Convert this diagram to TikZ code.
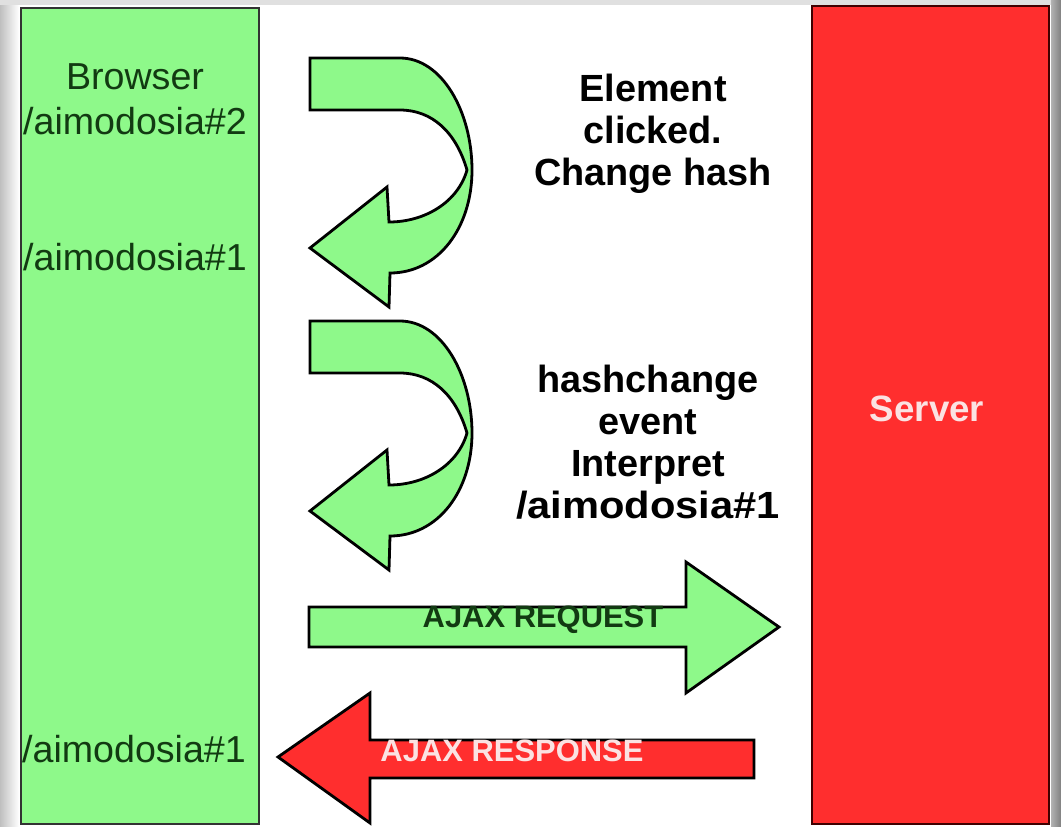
\documentclass[tikz,border=0pt]{standalone}
\usepackage{fontspec}
\setmainfont{Liberation Sans}
\definecolor{pagegreen}{HTML}{8EF98A}
\definecolor{pagered}{HTML}{FF2E2E}
\definecolor{greentext}{HTML}{123A12}
\definecolor{palepink}{HTML}{FBE2E2}
\tikzset{
  column/.style={draw=black!80, line width=1.4pt, inner sep=0pt},
  browserbox/.style={column, fill=pagegreen},
  serverbox/.style={column, fill=pagered, draw=black!75!red},
  pathlabel/.style={text=greentext, font=\fontsize{28.2}{31}\selectfont, inner sep=0pt},
  note/.style={align=center, font=\bfseries\fontsize{28.4}{31.5}\selectfont, inner sep=0pt},
  blockarrow/.style={draw=black, line width=2.1pt, line join=miter},
  reqlabel/.style={font=\bfseries\fontsize{23.2}{24}\selectfont, inner sep=0pt},
}
\begin{document}
\begin{tikzpicture}[x=0.75pt, y=-0.75pt]
  % page and frame
  \useasboundingbox (0,0) rectangle (1061,826);
  \fill[white] (0,0) rectangle (1061,826);
  \shade[left color=black!25, right color=white] (0,0) rectangle (19,826);
  \fill[black!12] (0,0) rectangle (1061,5);
  \shade[left color=black!30, right color=black!50] (1051,0) rectangle (1061,826);

  % the two columns
  \node[browserbox, minimum width=238*0.75pt, minimum height=816*0.75pt, anchor=north west]
    (browser) at (20,7) {};
  \node[serverbox, minimum width=237*0.75pt, minimum height=818*0.75pt, anchor=north west]
    (server) at (811,5) {};
  \node[text=palepink, font=\bfseries\fontsize{27.5}{31}\selectfont] (servername) at (927,409) {Server};

  % browser location texts
  \node[pathlabel] (browsername) at (135,77) {Browser};
  \node[pathlabel] (hashtwo) at (135,121) {/aimodosia\#2};
  \node[pathlabel] (hashone) at (135,257) {/aimodosia\#1};
  \node[pathlabel] (hashfinal) at (134,749) {/aimodosia\#1};

  % the two U-turn arrows
  \foreach \dy in {0,263} {
    \begin{scope}[shift={(0,\dy)}]
      \draw[blockarrow, fill=pagegreen]
        (310,58) -- (400,58)
        .. controls (442,58) and (472,112) .. (472,170)
        .. controls (472,228) and (438,273) .. (390,273)
        -- (389,307) -- (310,248) -- (387,187) -- (389,222)
        .. controls (425,222) and (458,202) .. (467,170)
        .. controls (456,132) and (432,110) .. (400,110)
        -- (310,110) -- cycle;
    \end{scope}
  }

  % step notes
  \node[note] (clicknote) at (653,134) {Element\\clicked.\\Change hash};
  \node[note] (hashnote) at (648,442) {hashchange\\event\\Interpret\\\scalebox{1.1}[1]{/aimodosia\#1}};

  % request arrow
  \draw[blockarrow, fill=pagegreen]
    (309,607) -- (686,607) -- (686,562) -- (779,627) -- (686,693) -- (686,647) -- (309,647) -- cycle;
  \node[reqlabel, text=greentext] (reqtext) at (543,620) {AJAX REQUEST};

  % response arrow
  \draw[blockarrow, fill=pagered]
    (754,740) -- (370,740) -- (370,693) -- (278,757) -- (370,823) -- (370,778) -- (754,778) -- cycle;
  \node[reqlabel, text=palepink] (resptext) at (512,751) {AJAX RESPONSE};
\end{tikzpicture}
\end{document}
